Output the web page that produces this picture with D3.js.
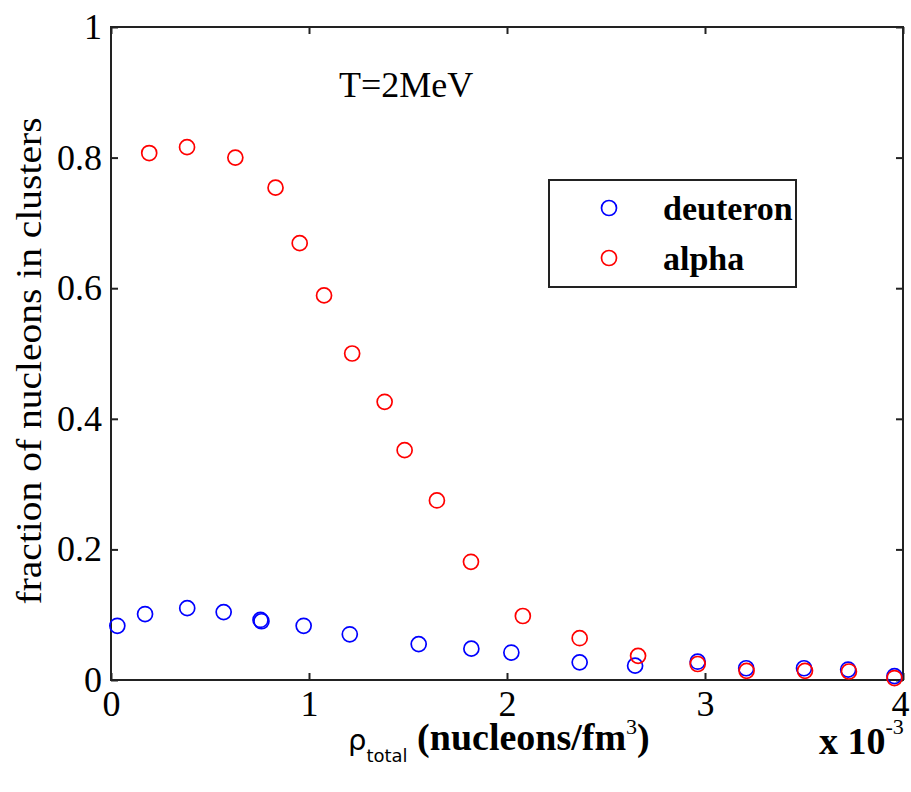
<!DOCTYPE html>
<html><head><meta charset="utf-8">
<script src="https://cdn.jsdelivr.net/npm/d3@7/dist/d3.min.js"></script>
<style>body{margin:0;background:#fff}svg{display:block}</style>
</head><body>
<script>
const xTicks = [0, 1, 2, 3, 4];
const yTicks = [0, 0.2, 0.4, 0.6, 0.8, 1];
const yTickLabels = ["0", "0.2", "0.4", "0.6", "0.8", "1"];
const deuteronX = [0.032, 0.172, 0.385, 0.569, 0.755, 0.760, 0.973, 1.206, 1.554, 1.82, 2.022, 2.367, 2.647, 2.963, 3.208, 3.5, 3.723, 3.957];
const deuteronY = [0.083, 0.101, 0.110, 0.104, 0.092, 0.090, 0.083, 0.070, 0.055, 0.048, 0.042, 0.027, 0.022, 0.028, 0.018, 0.018, 0.016, 0.006];
const alphaX = [0.193, 0.384, 0.628, 0.831, 0.953, 1.076, 1.218, 1.382, 1.483, 1.646, 1.818, 2.08, 2.367, 2.662, 2.963, 3.21, 3.505, 3.727, 3.957];
const alphaY = [0.807, 0.816, 0.800, 0.754, 0.669, 0.589, 0.500, 0.426, 0.352, 0.275, 0.181, 0.098, 0.064, 0.037, 0.0245, 0.014, 0.014, 0.013, 0.003];
const seriesNames = ["deuteron", "alpha"];
const seriesColors = ["#0000ff", "#ff0000"];

const W = 911, H = 792;
const L = 111, R = 903, T = 27, B = 680;
const svg = d3.select("body").append("svg").attr("width", W).attr("height", H);
const x = d3.scaleLinear().domain([0, 4]).range([L, R]);
const y = d3.scaleLinear().domain([0, 1]).range([B, T]);
const serif = "'Liberation Serif','Times New Roman',serif";

// frame
svg.append("rect").attr("x", L).attr("y", T).attr("width", R - L).attr("height", B - T)
  .attr("fill", "none").attr("stroke", "#222").attr("stroke-width", 2);

// axes
const fmt = d => yTickLabels[yTicks.indexOf(d)];
const gx = svg.append("g").attr("transform", `translate(0,${B})`)
  .call(d3.axisBottom(x).tickValues(xTicks).tickSize(-7).tickPadding(10).tickFormat(d3.format("d")));
const gxt = svg.append("g").attr("transform", `translate(0,${T})`)
  .call(d3.axisTop(x).tickValues(xTicks).tickSize(-7).tickFormat(""));
const gy = svg.append("g").attr("transform", `translate(${L},0)`)
  .call(d3.axisLeft(y).tickValues(yTicks).tickSize(-7).tickPadding(9).tickFormat(fmt));
const gyr = svg.append("g").attr("transform", `translate(${R},0)`)
  .call(d3.axisRight(y).tickValues(yTicks).tickSize(-7).tickFormat(""));
[gx, gxt, gy, gyr].forEach(g => {
  g.select(".domain").remove();
  g.selectAll(".tick line").attr("stroke", "#222").attr("stroke-width", 2);
  g.selectAll("text").attr("font-family", serif).attr("font-size", 36).attr("fill", "#000");
});
gx.selectAll("text").attr("dy", "0.71em");
gx.selectAll(".tick").filter(d => d === 4).select("text").attr("dx", -3);

// points
const deut = deuteronX.map((v, i) => ({x: v, y: deuteronY[i]}));
const alph = alphaX.map((v, i) => ({x: v, y: alphaY[i]}));
[[deut, 0], [alph, 1]].forEach(([data, k]) => {
  svg.append("g").selectAll("circle").data(data).join("circle")
    .attr("cx", d => x(d.x)).attr("cy", d => y(d.y)).attr("r", 7.5)
    .attr("fill", "none").attr("stroke", seriesColors[k]).attr("stroke-width", 1.7);
});

// title annotation
svg.append("text").attr("x", 339).attr("y", 97).attr("font-family", serif)
  .attr("font-size", 36).text("T=2MeV");

// legend
const lg = svg.append("g");
lg.append("rect").attr("x", 549).attr("y", 180).attr("width", 247).attr("height", 107)
  .attr("fill", "#fff").attr("stroke", "#222").attr("stroke-width", 2);
seriesNames.forEach((n, i) => {
  const cy = 208 + i * 50;
  lg.append("circle").attr("cx", 609).attr("cy", cy).attr("r", 7.5)
    .attr("fill", "none").attr("stroke", seriesColors[i]).attr("stroke-width", 1.7);
  lg.append("text").attr("x", 663).attr("y", cy + 12).attr("font-family", serif)
    .attr("font-size", 34).attr("font-weight", "bold").text(n);
});

// y label
svg.append("text").attr("transform", "translate(41,361) rotate(-90)")
  .attr("text-anchor", "middle").attr("font-family", serif).attr("font-size", 36)
  .attr("textLength", 487).attr("lengthAdjust", "spacingAndGlyphs")
  .text("fraction of nucleons in clusters");

// x label
const xl = svg.append("text").attr("x", 348).attr("y", 750)
  .attr("font-family", serif).attr("font-size", 38).attr("font-weight", "bold");
xl.append("tspan").attr("font-family", "'DejaVu Sans',sans-serif").attr("font-weight", "normal").attr("font-size", 29).text("ρ");
xl.append("tspan").attr("font-family", "'DejaVu Sans',sans-serif").attr("font-weight", "normal").attr("font-size", 18).attr("dy", 12).text("total");
xl.append("tspan").attr("dy", -12).text(" (nucleons/fm");
xl.append("tspan").attr("font-size", 22).attr("dy", -16).attr("font-weight", "normal").text("3");
xl.append("tspan").attr("dy", 16).text(")");

// exponent
const ex = svg.append("text").attr("x", 819).attr("y", 754).attr("font-family", serif)
  .attr("font-size", 38).attr("font-weight", "bold");
ex.append("tspan").text("x 10");
ex.append("tspan").attr("font-size", 22).attr("font-weight", "normal").attr("dy", -20).text("-3");
</script>
</body></html>
